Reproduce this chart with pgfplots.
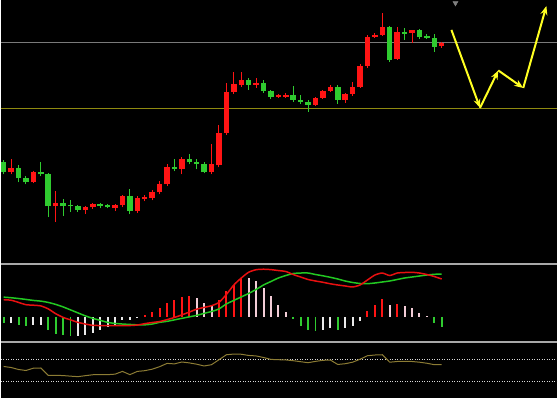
\documentclass[border=0pt]{standalone}
\usepackage{pgfplots}
\usepackage{pgfplotstable}
\pgfplotsset{compat=1.18}
\usetikzlibrary{arrows.meta}
\definecolor{cred}{HTML}{FF1414}
\definecolor{cgreen}{HTML}{2FCB2F}
\definecolor{cpink}{HTML}{F2CCD6}
\definecolor{cwhite}{HTML}{EAEAEA}
\definecolor{sepgray}{HTML}{A8A8A8}
\definecolor{hgray}{HTML}{7A7A7A}
\definecolor{holive}{HTML}{8F8A10}
\definecolor{rsicol}{HTML}{8C7C34}
\definecolor{macdred}{HTML}{E81010}
\definecolor{macdgreen}{HTML}{22C822}
\definecolor{arrowy}{HTML}{FFFF22}

% candles: index, body top, body bottom, high, low (price units)
\pgfplotstableread{
i t b h l
1 102 92 104 90
3 96 86 99 82
4 86 82 88 80
6 92 90 102 88
7 90 58 91 47
9 61 58 65 48
10 59 58 64 52
11 58 54 59 52
14 60 58 61 56
15 59 57 60 56
18 68 53 75 50
24 97 95 105 93
26 105 102 110 100
27 102 100 105 95
28 100 92 102 91
34 185 180 187 175
36 182 174 185 172
37 174 168 175 166
40 170 165 179 163
41 165 163 170 161
42 163 160 165 153
46 178 165 180 161
53 238 205 239 203
55 233 231 237 225
57 235 228 236 226
58 229 227 231 226
59 227 218 231 213
}\greenc
\pgfplotstableread{
i t b h l
2 96 92 105 90
5 92 82 93 81
8 61 58 73 42
12 57 54 58 50
13 60 57 61 55
16 59 56 60 53
17 68 59 69 57
19 66 53 68 51
20 67 65 69 63
21 72 66 74 64
22 80 72 83 70
23 97 80 100 78
25 105 95 107 90
29 100 92 120 90
30 132 99 140 97
31 173 132 182 130
32 181 173 193 171
33 185 180 193 178
35 182 180 187 177
38 169 168 171 167
39 170 168 172 167
43 167 160 168 159
44 174 167 175 166
45 178 174 180 173
47 171 165 172 162
48 178 171 183 169
49 199 178 201 177
50 228 199 230 197
51 230 228 232 227
52 238 230 252 229
54 233 206 238 205
56 235 232 235 222
60 222 219 223 217
}\redc

% MACD: DIF, DEA
\pgfplotstableread{
i dif dea
1 17.2 19.8
2 16.7 19.2
3 14.5 18.4
4 12.2 17.5
5 11.7 16.5
6 11 15.8
7 8 14.5
8 3.2 12.5
9 -0.5 10
10 -3 7
11 -5.5 4
12 -7.2 1
13 -8.5 -1.5
14 -8.7 -3.5
15 -8.7 -5.5
16 -8.7 -6.6
17 -8.7 -7.2
18 -8.7 -7.6
19 -8.2 -8
20 -6.8 -8
21 -5.7 -7.2
22 -4.7 -5.5
23 -2.8 -4.5
24 -0.6 -3
25 2 -1.5
26 4.8 0
27 7.7 1.5
28 9.5 3.5
29 11.2 5.4
30 14.5 8
31 22.5 13
32 32 16.5
33 39 20
34 44.8 23.5
35 47.3 27.5
36 47.8 32
37 47.4 35.5
38 46.5 39
39 45.5 41.5
40 42.5 43.5
41 40 44
42 37.5 44
43 36 42.5
44 34.7 41.2
45 33.2 39.7
46 32 38
47 31 36
48 30 34.5
49 32 33.5
50 37 33.3
51 42 34
52 44 35
53 41.5 36
54 44 37.5
55 44.5 39
56 44.7 40
57 44 41
58 42.5 42
59 40.5 42.7
60 38 43
}\macd

\pgfplotstableread{
i v
1 -6
3 -7.7
4 -9
7 -12.7
8 -16.7
9 -18.7
10 -19.3
40 -2
41 -8.7
42 -12.7
43 -14.3
46 -12.7
59 -6
60 -10
}\hgreen
\pgfplotstableread{
i v
2 -6
5 -7.7
6 -7.7
11 -19.3
12 -17.7
13 -16
14 -12.7
15 -10
16 -7.7
17 -3.3
18 -2.7
19 -0.8
44 -12.7
45 -11
47 -11
48 -9.3
49 -4.3
}\hwhite
\pgfplotstableread{
i v
20 2
21 4.7
22 9
23 14
24 16.7
25 19.7
26 20.7
30 17.3
31 25.7
32 32.3
33 39
50 5.7
51 12.3
52 18
54 13.3
}\hred
\pgfplotstableread{
i v
27 19
28 14
29 12.3
34 39
35 35.7
36 29
37 21.3
38 12.3
39 4.7
53 12.3
55 11.3
56 9
57 4
58 0.8
}\hpink

\pgfplotstableread{
i v
1 57.5
2 55.6
3 51.9
4 50.1
5 54.3
6 54.7
7 41.1
8 41.1
9 40.7
10 39.6
11 38.7
12 40.5
13 42.2
14 42.4
15 42.4
16 43.3
17 48.4
18 42.4
19 48.4
20 49.7
21 52.5
22 57.1
23 63.2
24 62.3
25 65.8
26 64.1
27 61.7
28 58.4
29 60.8
30 70
31 79.2
32 80.5
33 80.1
34 77.9
35 77
36 74.1
37 70.6
38 70
39 69.6
40 68.2
41 66.3
42 64.5
43 66.9
44 68.9
45 69.4
46 61.2
47 62.6
48 65.4
49 70.9
50 77.4
51 78.7
52 79.2
53 65.4
54 66.7
55 66.9
56 66.7
57 65.4
58 63.5
59 60.8
60 60.8
}\rsi

\begin{document}
\begin{tikzpicture}
\fill[black] (0bp,0bp) rectangle (558bp,399bp);
\pgfplotsset{panel/.style={scale only axis, axis lines=box, axis line style={draw=none},
  ticks=none, xmin=0.638, xmax=75.53, anchor=south west, width=558bp},
  wick/.style={draw=#1, line width=1bp, mark=none, line cap=butt,
    quiver={u=0, v={\thisrow{h}-\thisrow{l}}}},
  body/.style={draw=#1, line width=5.5bp, mark=none, line cap=butt,
    quiver={u=0, v={max(\thisrow{t}-\thisrow{b},1.6)}}},
  hbar/.style={draw=#1, line width=2bp, mark=none, line cap=butt,
    quiver={u=0, v=\thisrow{v}}}}
% main panel
\begin{axis}[panel, at={(0bp,134bp)}, height=265bp, ymin=0, ymax=265]
\addplot[hgray, line width=1bp] coordinates {(0.638,222) (75.53,222)};
\addplot[holive, line width=1.2bp] coordinates {(0.638,156.5) (75.53,156.5)};
\addplot[wick=cgreen] table[x=i, y=l] {\greenc};
\addplot[wick=cred] table[x=i, y=l] {\redc};
\addplot[body=cgreen] table[x=i, y=b] {\greenc};
\addplot[body=cred] table[x=i, y=b] {\redc};
\addplot[arrowy, line width=2bp, -{Stealth[length=9bp,width=7bp]}] coordinates {(61.31,235) (65.16,156.7)};
\addplot[arrowy, line width=2bp, -{Stealth[length=9bp,width=7bp]}] coordinates {(65.16,156.7) (67.62,194.3)};
\addplot[arrowy, line width=2bp, -{Stealth[length=9bp,width=7bp]}] coordinates {(67.62,194.3) (70.98,176.7)};
\addplot[arrowy, line width=2bp, -{Stealth[length=9bp,width=7bp]}] coordinates {(70.98,176.7) (74.1,259)};
\addplot[only marks, mark=triangle*, mark size=3bp, mark options={rotate=180, fill=gray, draw=gray}] coordinates {(61.85,262)};
\end{axis}
% MACD panel
\begin{axis}[panel, at={(0bp,55.5bp)}, height=78.5bp, ymin=-25.5, ymax=53]
\addplot[hbar=cgreen] table[x=i, y expr=0] {\hgreen};
\addplot[hbar=cwhite] table[x=i, y expr=0] {\hwhite};
\addplot[hbar=cred] table[x=i, y expr=0] {\hred};
\addplot[hbar=cpink] table[x=i, y expr=0] {\hpink};
\addplot[macdgreen, line width=1.5bp, smooth, tension=0.4] table[x=i, y=dea] {\macd};
\addplot[macdred, line width=1.5bp, smooth, tension=0.4] table[x=i, y=dif] {\macd};
\end{axis}
% lower indicator panel
\begin{axis}[panel, at={(0bp,0bp)}, height=55.5bp, ymin=0, ymax=102.25]
\addplot[color=white!70!gray, line width=0.8bp, dash pattern=on 1bp off 1.5bp] coordinates {(0.638,70) (75.53,70)};
\addplot[color=white!70!gray, line width=0.8bp, dash pattern=on 1bp off 1.5bp] coordinates {(0.638,30) (75.53,30)};
\addplot[rsicol, line width=1bp] table[x=i, y=v] {\rsi};
\end{axis}
% panel separators
\draw[sepgray, line width=2bp] (0bp,134bp) -- (558bp,134bp);
\draw[sepgray, line width=2bp] (0bp,55.5bp) -- (558bp,55.5bp);
\end{tikzpicture}
\end{document}
